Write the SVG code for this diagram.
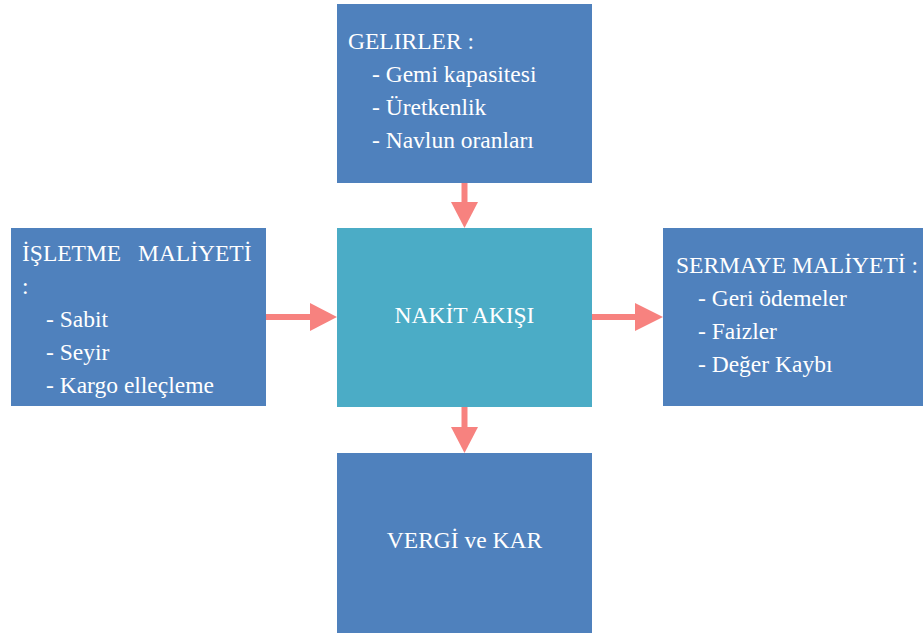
<svg xmlns="http://www.w3.org/2000/svg" width="923" height="633" viewBox="0 0 923 633">
<style>
.box{fill:#4F81BD}
.ctr{fill:#4BACC6}
.t{font-family:'Liberation Serif','DejaVu Serif','Times New Roman',serif;font-size:23.5px;fill:#FFFFFF}
.shaft{stroke:#F7827F;stroke-width:6;fill:none}
.head{fill:#F7827F}
</style>
<rect width="923" height="633" fill="#FFFFFF"/>
<g id="gelirler" class="t" font-family="Liberation Serif, DejaVu Serif, serif">
<rect class="box" x="337" y="4" width="255" height="179"/>
<text x="348" y="49">GELIRLER :</text>
<text x="372" y="82">- Gemi kapasitesi</text>
<text x="372" y="115">- Üretkenlik</text>
<text x="372" y="148">- Navlun oranları</text>
</g>
<g id="isletme" class="t" font-family="Liberation Serif, DejaVu Serif, serif">
<rect class="box" x="11" y="228" width="255" height="178"/>
<text x="22" y="261">İŞLETME<tspan x="138">MALİYETİ</tspan></text>
<text x="22" y="294">:</text>
<text x="46" y="327">- Sabit</text>
<text x="46" y="360">- Seyir</text>
<text x="46" y="393">- Kargo elleçleme</text>
</g>
<g id="nakit" class="t" font-family="Liberation Serif, DejaVu Serif, serif">
<rect class="ctr" x="337" y="228" width="255" height="179"/>
<text x="464.5" y="323" text-anchor="middle">NAKİT AKIŞI</text>
</g>
<g id="sermaye" class="t" font-family="Liberation Serif, DejaVu Serif, serif">
<rect class="box" x="663" y="228" width="262" height="178"/>
<text x="676" y="273">SERMAYE MALİYETİ :</text>
<text x="698" y="306">- Geri ödemeler</text>
<text x="698" y="339">- Faizler</text>
<text x="698" y="372">- Değer Kaybı</text>
</g>
<g id="vergi" class="t" font-family="Liberation Serif, DejaVu Serif, serif">
<rect class="box" x="337" y="453" width="255" height="180"/>
<text x="464.5" y="548" text-anchor="middle">VERGİ ve KAR</text>
</g>
<g id="connectors">
<line class="shaft" x1="464.5" y1="183" x2="464.5" y2="203"/>
<polygon class="head" points="451,202 478,202 464.5,228"/>
<line class="shaft" x1="266" y1="317" x2="311" y2="317"/>
<polygon class="head" points="310,303 310,331 337,317"/>
<line class="shaft" x1="592" y1="317" x2="636" y2="317"/>
<polygon class="head" points="635,303 635,331 663,317"/>
<line class="shaft" x1="464.5" y1="407" x2="464.5" y2="428"/>
<polygon class="head" points="451,427 478,427 464.5,453"/>
</g>
</svg>
